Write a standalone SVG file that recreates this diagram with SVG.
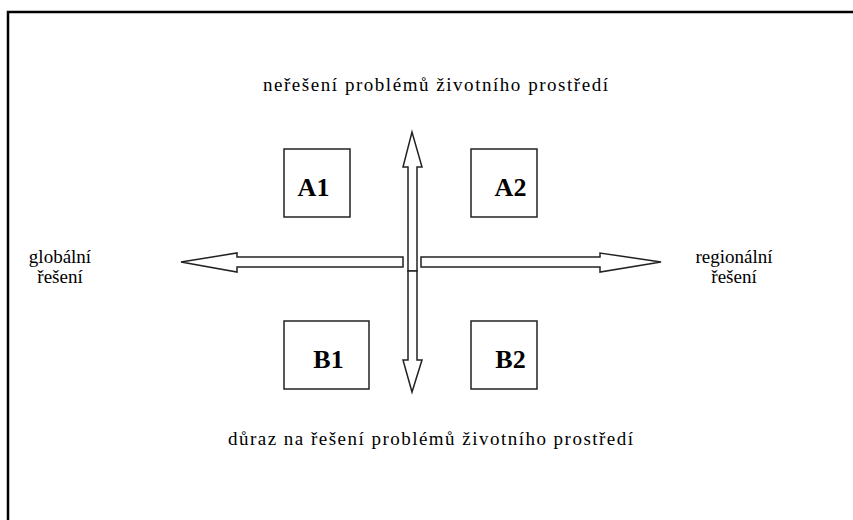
<svg xmlns="http://www.w3.org/2000/svg" width="853" height="520" viewBox="0 0 853 520">
<style>
.t{font-family:"Liberation Serif","Times New Roman",serif;fill:#000}
.lbl{font-size:19px}
.big{font-size:26px;font-weight:bold}
.box{fill:#fff;stroke:#222;stroke-width:1.5}
.arr{fill:#fff;stroke:#222;stroke-width:1.5;stroke-linejoin:miter}
</style>
<rect width="853" height="520" fill="#fff"/>
<path d="M8,520 L8,12 L853,12" fill="none" stroke="#000" stroke-width="2.5"/>
<g id="connectors">
<polygon class="arr" points="403,257 237,257 237,253 181,262 237,272 237,267 403,267"/>
<polygon class="arr" points="421,257 600,257 600,253 661,262 600,272 600,267 421,267"/>
<polygon class="arr" points="408,271 408,167 403,167 412,132 422,167 417,167 417,271"/>
<polygon class="arr" points="408,271 408,360 403,360 412,392 422,360 417,360 417,271"/>
</g>
<g id="A1"><rect class="box" x="284" y="149" width="66" height="68"/><text class="t big" x="313.5" y="196" text-anchor="middle">A1</text></g>
<g id="A2"><rect class="box" x="471" y="149" width="66" height="68"/><text class="t big" x="510.5" y="196" text-anchor="middle">A2</text></g>
<g id="B1"><rect class="box" x="284" y="321" width="85" height="68"/><text class="t big" x="328.5" y="368" text-anchor="middle">B1</text></g>
<g id="B2"><rect class="box" x="471" y="321" width="66" height="68"/><text class="t big" x="510.5" y="368" text-anchor="middle">B2</text></g>
<g id="top-label"><text class="t lbl" x="263" y="91" textLength="345" lengthAdjust="spacing">neřešení problémů životního prostředí</text></g>
<g id="bottom-label"><text class="t lbl" x="228" y="445" textLength="405" lengthAdjust="spacing">důraz na řešení problémů životního prostředí</text></g>
<g id="left-label"><text class="t lbl" x="60" y="263" text-anchor="middle">globální</text><text class="t lbl" x="60" y="283" text-anchor="middle">řešení</text></g>
<g id="right-label"><text class="t lbl" x="734" y="263" text-anchor="middle">regionální</text><text class="t lbl" x="734" y="283" text-anchor="middle">řešení</text></g>
</svg>
